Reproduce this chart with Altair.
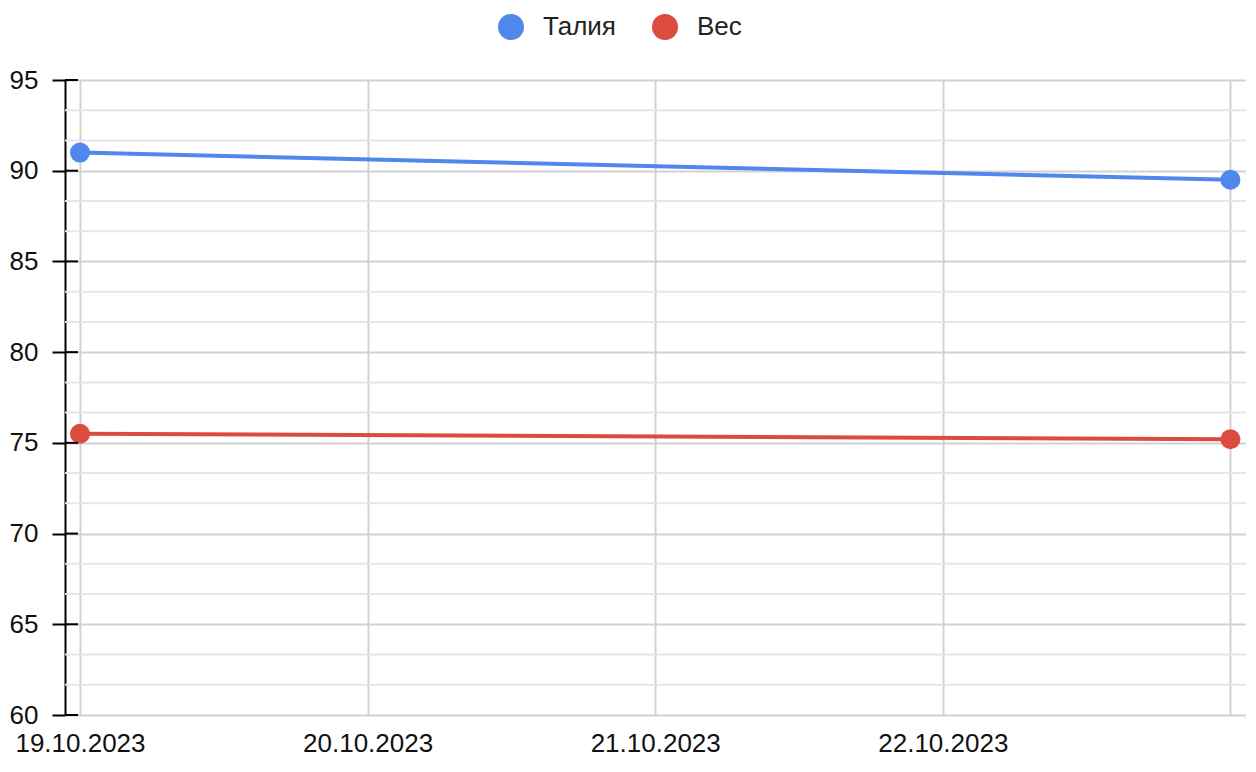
import altair as alt
import pandas as pd
from datetime import datetime, timezone, timedelta

# ---- data ----
dates = ["2023-10-19", "2023-10-23"]
talia = [91.0, 89.5]
ves = [75.5, 75.2]
series_names = ["Талия", "Вес"]
series_colors = ["#4F87EC", "#DB4B3E"]
tick_days = ["2023-10-19", "2023-10-20", "2023-10-21", "2023-10-22", "2023-10-23"]
major_y = [60, 65, 70, 75, 80, 85, 90, 95]
minor_y = [v + d for v in major_y[:-1] for d in (5 / 3, 10 / 3)]

rows = []
for d, a, b in zip(dates, talia, ves):
    rows.append({"date": d, "series": series_names[0], "value": a})
    rows.append({"date": d, "series": series_names[1], "value": b})
df = pd.DataFrame(rows)


def ms(s, minutes=0):
    dt = datetime.strptime(s, "%Y-%m-%d").replace(tzinfo=timezone.utc) + timedelta(minutes=minutes)
    return int(dt.timestamp() * 1000)


tick_ms = [ms(d) for d in tick_days]
x_domain = [ms(tick_days[0], -75), ms(tick_days[-1], 78)]
last_ms = tick_ms[-1]

FONT = "Liberation Sans"
FS = 26
W, H = 1181, 635

yscale = alt.Scale(domain=[60, 95], nice=False, zero=False)
xscale = alt.Scale(type="utc", domain=x_domain, nice=False)

y_axis = alt.Axis(
    title=None,
    values=major_y,
    domain=True,
    domainColor="#000",
    domainWidth=2,
    ticks=True,
    tickColor="#000",
    tickWidth=2,
    tickSize=13,
    grid=True,
    gridColor="#d2d2d2",
    gridWidth=2,
    labelFont=FONT,
    labelFontSize=FS,
    labelColor="#111",
    labelPadding=14,
)

minor = alt.Chart(pd.DataFrame({"v": minor_y})).mark_rule(
    color="#e6e6e6", strokeWidth=2
).encode(y=alt.Y("v:Q", scale=yscale, axis=y_axis))

base = alt.Chart(df).encode(
    x=alt.X(
        "date:T",
        scale=xscale,
        axis=alt.Axis(
            title=None,
            values=tick_ms,
            labelExpr=f"datum.value < {last_ms} ? utcFormat(datum.value, '%d.%m.%Y') : ''",
            domain=False,
            ticks=False,
            grid=True,
            gridColor="#d2d2d2",
            gridWidth=2,
            labelFont=FONT,
            labelFontSize=FS,
            labelColor="#111",
            labelPadding=15,
            labelFlush=False,
            labelOverlap=False,
        ),
    ),
    y=alt.Y("value:Q", scale=yscale, axis=y_axis),
    color=alt.Color(
        "series:N",
        scale=alt.Scale(domain=series_names, range=series_colors),
        legend=alt.Legend(
            title=None,
            orient="none",
            legendX=433,
            legendY=-66,
            direction="horizontal",
            symbolType="circle",
            symbolSize=676,
            symbolStrokeWidth=0,
            labelFont=FONT,
            labelFontSize=FS,
            labelColor="#222",
            labelOffset=19,
            columnPadding=36,
            padding=0,
        ),
    ),
)

lines = base.mark_line(strokeWidth=4)
points = base.mark_point(filled=True, size=400, opacity=1)

inward = alt.Chart(pd.DataFrame({"v": major_y})).mark_rule(
    color="#000", strokeWidth=2
).encode(
    y=alt.Y("v:Q", scale=yscale, axis=y_axis),
    x=alt.value(0),
    x2=alt.value(13),
)

chart = alt.layer(minor, lines, points, inward).properties(
    width=W,
    height=H,
    autosize=alt.AutoSizeParams(type="none"),
    padding={"left": 57, "top": 72, "right": 0, "bottom": 48},
).configure_view(stroke=None).configure(background="white")

chart.save("out.html", embed_options={"renderer": "svg", "actions": False})
